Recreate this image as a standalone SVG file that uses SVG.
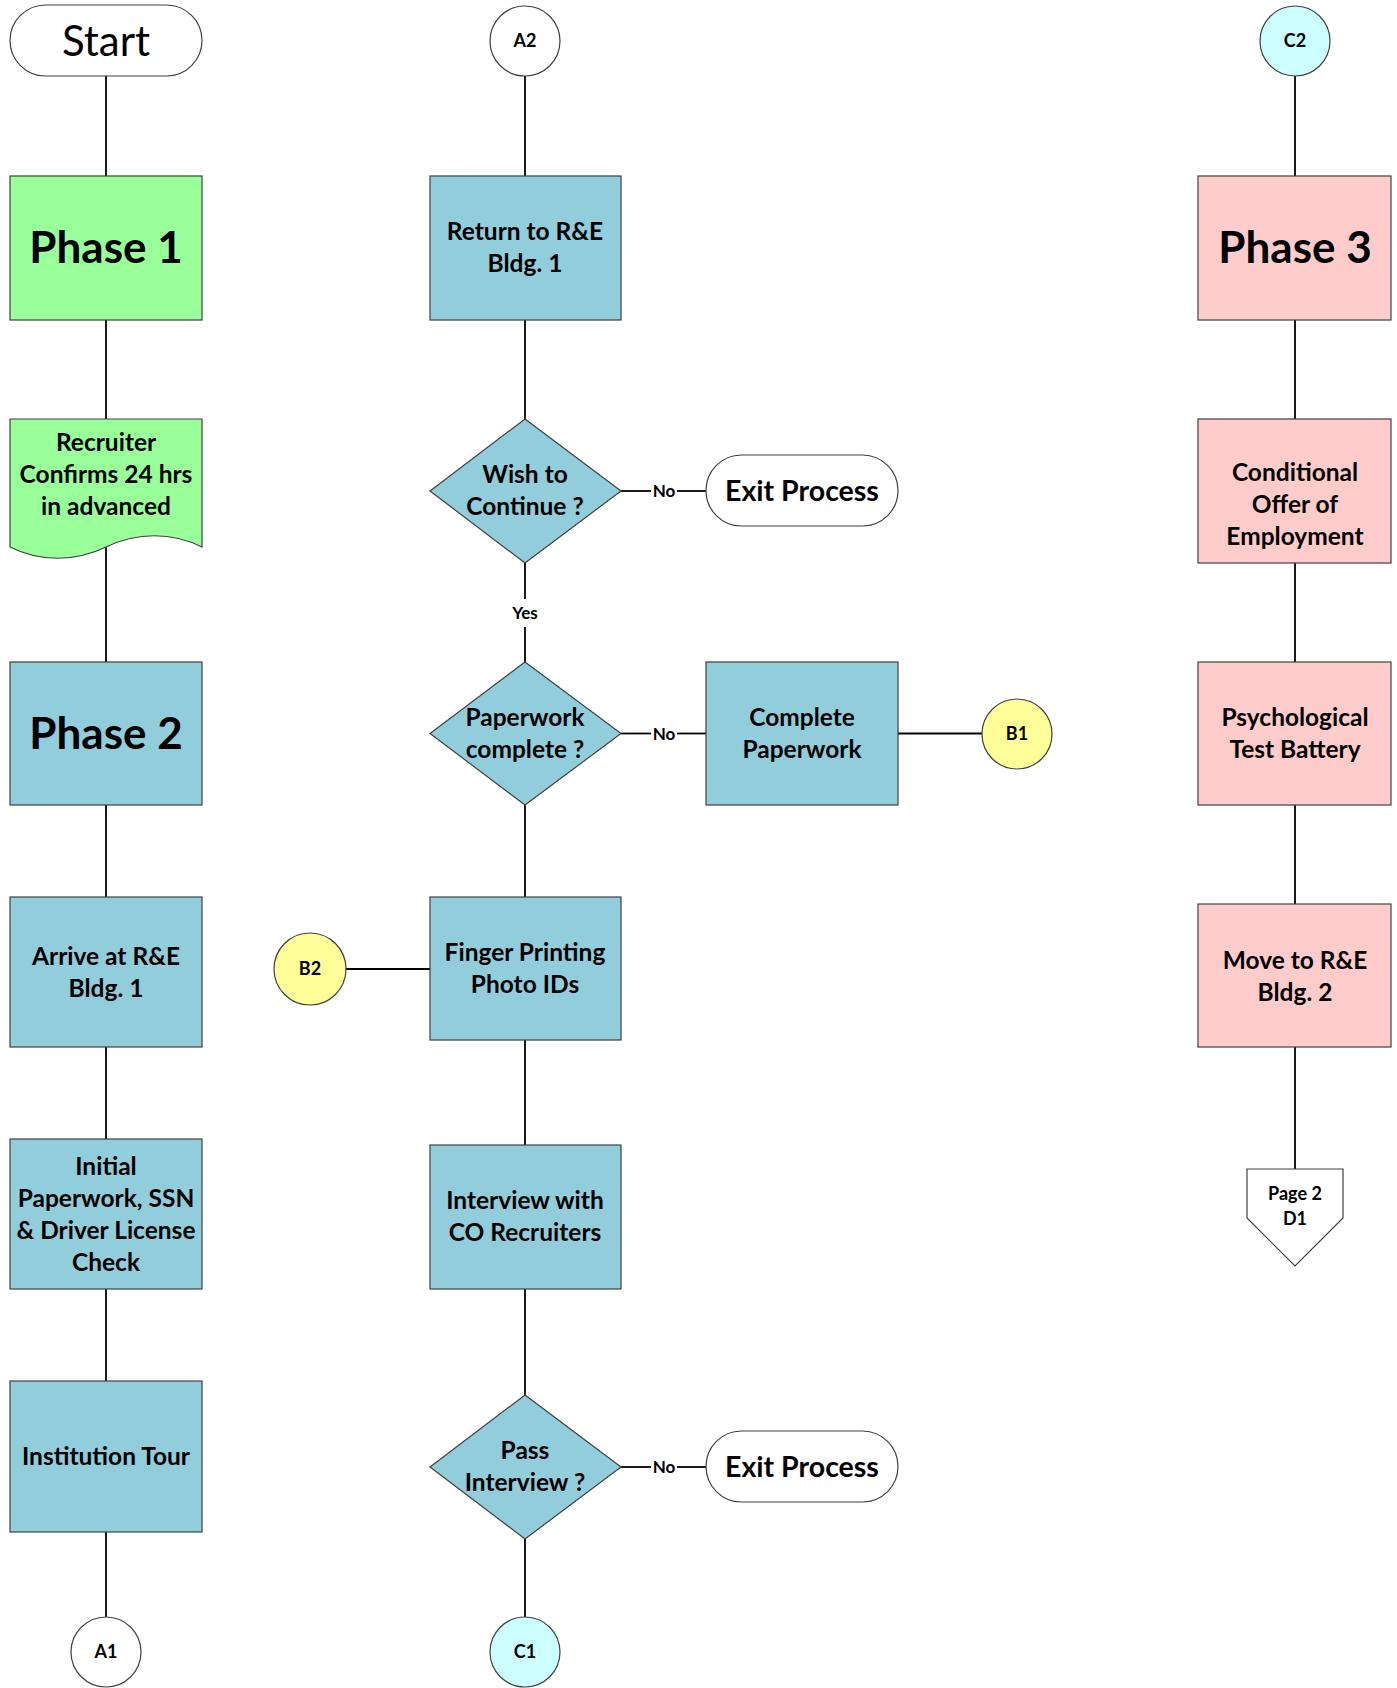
<svg xmlns="http://www.w3.org/2000/svg" width="1397" height="1688" viewBox="0 0 1397 1688">
<style>
text{font-family:"Lato","Liberation Sans",sans-serif;font-weight:bold;text-anchor:middle;fill:#000}
.sh{stroke:#404040;stroke-width:1.2}
.g{fill:#99FF99}.b{fill:#92CDDC}.p{fill:#FFCCCC}.y{fill:#FFFF99}.c{fill:#CCFFFF}.w{fill:#FFFFFF}
.t{font-size:24.5px}.big{font-size:44px}.ex{font-size:28.5px}.cn{font-size:18px}.lb{font-size:17px}
#connectors line{stroke:#000;stroke-width:1.8}
</style>
<rect width="1397" height="1688" fill="#FFFFFF"/>
<g id="connectors">
<line x1="106" y1="76" x2="106" y2="176"/>
<line x1="106" y1="320" x2="106" y2="419"/>
<line x1="106" y1="547" x2="106" y2="662"/>
<line x1="106" y1="805" x2="106" y2="897"/>
<line x1="106" y1="1047" x2="106" y2="1139"/>
<line x1="106" y1="1289" x2="106" y2="1381"/>
<line x1="106" y1="1532" x2="106" y2="1617"/>
<line x1="525" y1="76" x2="525" y2="176"/>
<line x1="525" y1="320" x2="525" y2="419"/>
<line x1="525" y1="563" x2="525" y2="599"/>
<line x1="525" y1="627" x2="525" y2="662"/>
<line x1="525" y1="805" x2="525" y2="897"/>
<line x1="525" y1="1040" x2="525" y2="1145"/>
<line x1="525" y1="1289" x2="525" y2="1395"/>
<line x1="525" y1="1539" x2="525" y2="1617"/>
<line x1="621" y1="491" x2="651" y2="491"/>
<line x1="677" y1="491" x2="706" y2="491"/>
<line x1="621" y1="733.5" x2="651" y2="733.5"/>
<line x1="677" y1="733.5" x2="706" y2="733.5"/>
<line x1="898" y1="733.5" x2="982" y2="733.5"/>
<line x1="346" y1="969" x2="430" y2="969"/>
<line x1="621" y1="1467" x2="651" y2="1467"/>
<line x1="677" y1="1467" x2="706" y2="1467"/>
<line x1="1295" y1="76" x2="1295" y2="176"/>
<line x1="1295" y1="320" x2="1295" y2="419"/>
<line x1="1295" y1="563" x2="1295" y2="662"/>
<line x1="1295" y1="805" x2="1295" y2="904"/>
<line x1="1295" y1="1047" x2="1295" y2="1169"/>
<text class="lb" x="664" y="497">No</text>
<text class="lb" x="664" y="739.5">No</text>
<text class="lb" x="664" y="1473">No</text>
<text class="lb" x="525" y="619">Yes</text>
</g>
<g id="start"><rect class="sh w" x="10" y="5" width="192" height="71" rx="35.5"/><text x="106" y="56" style="font-size:42px;font-weight:normal">Start</text></g>
<g id="phase1"><rect class="sh g" x="10" y="176" width="192" height="144"/><text class="big" x="106" y="263">Phase 1</text></g>
<g id="recruiter"><path class="sh g" d="M10,419 H202 V547 C172,532 137,532 106,547 C75,562 40,562 10,547 Z"/><text class="t" x="106" y="451">Recruiter</text><text class="t" x="106" y="483">Confirms 24 hrs</text><text class="t" x="106" y="515">in advanced</text></g>
<g id="phase2"><rect class="sh b" x="10" y="662" width="192" height="143"/><text class="big" x="106" y="749">Phase 2</text></g>
<g id="arrive"><rect class="sh b" x="10" y="897" width="192" height="150"/><text class="t" x="106" y="965">Arrive at R&amp;E</text><text class="t" x="106" y="997">Bldg. 1</text></g>
<g id="initial"><rect class="sh b" x="10" y="1139" width="192" height="150"/><text class="t" x="106" y="1175">Initial</text><text class="t" x="106" y="1207">Paperwork, SSN</text><text class="t" x="106" y="1239">&amp; Driver License</text><text class="t" x="106" y="1271">Check</text></g>
<g id="tour"><rect class="sh b" x="10" y="1381" width="192" height="151"/><text class="t" x="106" y="1465">Institution Tour</text></g>
<g id="a1"><circle class="sh w" cx="106" cy="1652" r="35"/><text class="cn" x="106" y="1658">A1</text></g>
<g id="a2"><circle class="sh w" cx="525" cy="41" r="35"/><text class="cn" x="525" y="47">A2</text></g>
<g id="return"><rect class="sh b" x="430" y="176" width="191" height="144"/><text class="t" x="525" y="240">Return to R&amp;E</text><text class="t" x="525" y="272">Bldg. 1</text></g>
<g id="wish"><polygon class="sh b" points="525,419 621,491 525,563 430,491"/><text class="t" x="525" y="483">Wish to</text><text class="t" x="525" y="515">Continue ?</text></g>
<g id="exit1"><rect class="sh w" x="706" y="455" width="192" height="71" rx="35.5"/><text class="ex" x="802" y="501">Exit Process</text></g>
<g id="paperwork"><polygon class="sh b" points="525,662 621,733.5 525,805 430,733.5"/><text class="t" x="525" y="726">Paperwork</text><text class="t" x="525" y="758">complete ?</text></g>
<g id="complete"><rect class="sh b" x="706" y="662" width="192" height="143"/><text class="t" x="802" y="726">Complete</text><text class="t" x="802" y="758">Paperwork</text></g>
<g id="b1"><circle class="sh y" cx="1017" cy="734" r="35"/><text class="cn" x="1017" y="740">B1</text></g>
<g id="b2"><circle class="sh y" cx="310" cy="969" r="36"/><text class="cn" x="310" y="975">B2</text></g>
<g id="finger"><rect class="sh b" x="430" y="897" width="191" height="143"/><text class="t" x="525" y="961">Finger Printing</text><text class="t" x="525" y="993">Photo IDs</text></g>
<g id="interview"><rect class="sh b" x="430" y="1145" width="191" height="144"/><text class="t" x="525" y="1209">Interview with</text><text class="t" x="525" y="1241">CO Recruiters</text></g>
<g id="pass"><polygon class="sh b" points="525,1395 621,1467 525,1539 430,1467"/><text class="t" x="525" y="1459">Pass</text><text class="t" x="525" y="1491">Interview ?</text></g>
<g id="exit2"><rect class="sh w" x="706" y="1431" width="192" height="71" rx="35.5"/><text class="ex" x="802" y="1477">Exit Process</text></g>
<g id="c1"><circle class="sh c" cx="525" cy="1652" r="35"/><text class="cn" x="525" y="1658">C1</text></g>
<g id="c2"><circle class="sh c" cx="1295" cy="41" r="35"/><text class="cn" x="1295" y="47">C2</text></g>
<g id="phase3"><rect class="sh p" x="1198" y="176" width="193" height="144"/><text class="big" x="1295" y="263">Phase 3</text></g>
<g id="offer"><rect class="sh p" x="1198" y="419" width="193" height="144"/><text class="t" x="1295" y="481">Conditional</text><text class="t" x="1295" y="513">Offer of</text><text class="t" x="1295" y="545">Employment</text></g>
<g id="psych"><rect class="sh p" x="1198" y="662" width="193" height="143"/><text class="t" x="1295" y="726">Psychological</text><text class="t" x="1295" y="758">Test Battery</text></g>
<g id="move"><rect class="sh p" x="1198" y="904" width="193" height="143"/><text class="t" x="1295" y="969">Move to R&amp;E</text><text class="t" x="1295" y="1001">Bldg. 2</text></g>
<g id="page2"><polygon class="sh w" points="1247,1169 1343,1169 1343,1218 1295,1266 1247,1218"/><text class="cn" x="1295" y="1200">Page 2</text><text class="cn" x="1295" y="1225">D1</text></g>
</svg>
